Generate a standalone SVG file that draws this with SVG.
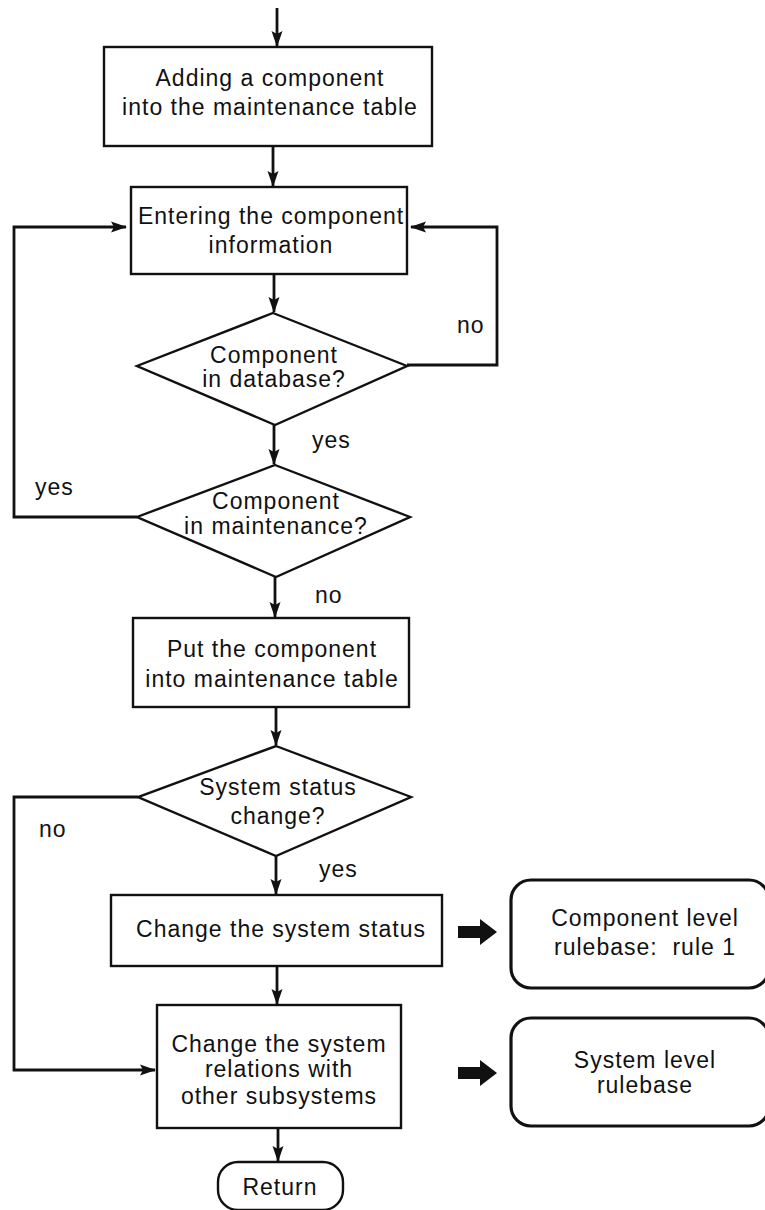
<svg xmlns="http://www.w3.org/2000/svg" width="765" height="1210" viewBox="0 0 765 1210">
<defs>
<marker id="ah" markerWidth="16" markerHeight="12" refX="15" refY="6" orient="auto" markerUnits="userSpaceOnUse">
<path d="M0,0.5 L16,6 L0,11.5 L3,6 Z" fill="#111"/>
</marker>
</defs>
<style>
text{font-family:"Liberation Sans",Arial,sans-serif;font-size:23px;fill:#111;letter-spacing:1px;text-anchor:middle}
.lbl{text-anchor:start}
.box{fill:#fff;stroke:#111;stroke-width:2.4}
.rbox{fill:#fff;stroke:#111;stroke-width:3.2}
.ln{fill:none;stroke:#111;stroke-width:2.8}
.fat{fill:#111}
</style>
<rect width="765" height="1210" fill="#fff"/>
<g id="connectors">
<line class="ln" x1="277" y1="8" x2="277" y2="46" marker-end="url(#ah)"/>
<line class="ln" x1="273" y1="146" x2="273" y2="186" marker-end="url(#ah)"/>
<line class="ln" x1="274" y1="274" x2="274" y2="312" marker-end="url(#ah)"/>
<polyline class="ln" points="407,365 497,365 497,227 411,227" marker-end="url(#ah)"/>
<line class="ln" x1="274" y1="425" x2="274" y2="464" marker-end="url(#ah)"/>
<polyline class="ln" points="137,517 14,517 14,227 126,227" marker-end="url(#ah)"/>
<line class="ln" x1="275" y1="577" x2="275" y2="617" marker-end="url(#ah)"/>
<line class="ln" x1="276" y1="707" x2="276" y2="745" marker-end="url(#ah)"/>
<line class="ln" x1="276" y1="856" x2="276" y2="894" marker-end="url(#ah)"/>
<polyline class="ln" points="138,797 14,797 14,1070 155,1070" marker-end="url(#ah)"/>
<line class="ln" x1="277" y1="966" x2="277" y2="1004" marker-end="url(#ah)"/>
<line class="ln" x1="278" y1="1128" x2="278" y2="1161" marker-end="url(#ah)"/>
<path class="fat" d="M458,926 L480,926 L480,919 L497,932 L480,945 L480,938 L458,938 Z"/>
<path class="fat" d="M458,1067 L480,1067 L480,1060 L497,1073 L480,1086 L480,1079 L458,1079 Z"/>
<text class="lbl" x="457" y="333">no</text>
<text class="lbl" x="312" y="448">yes</text>
<text class="lbl" x="35" y="495">yes</text>
<text class="lbl" x="315" y="603">no</text>
<text class="lbl" x="39" y="837">no</text>
<text class="lbl" x="319" y="877">yes</text>
</g>
<g id="n1">
<rect class="box" x="104" y="47" width="328" height="99"/>
<text x="270" y="86">Adding a component</text>
<text x="270" y="115">into the maintenance table</text>
</g>
<g id="n2">
<rect class="box" x="131" y="187" width="276" height="87"/>
<text x="271" y="224">Entering the component</text>
<text x="271" y="253">information</text>
</g>
<g id="d1">
<polygon class="box" points="273,313 407,366 275,425 137,366"/>
<text x="274" y="363">Component</text>
<text x="274" y="387">in database?</text>
</g>
<g id="d2">
<polygon class="box" points="275,465 410,517 276,577 137,517"/>
<text x="276" y="509">Component</text>
<text x="276" y="534">in maintenance?</text>
</g>
<g id="n3">
<rect class="box" x="133" y="618" width="276" height="89"/>
<text x="272" y="657">Put the component</text>
<text x="272" y="687">into maintenance table</text>
</g>
<g id="d3">
<polygon class="box" points="276,746 411,797 276,856 138,797"/>
<text x="278" y="795">System status</text>
<text x="278" y="824">change?</text>
</g>
<g id="n4">
<rect class="box" x="111" y="895" width="331" height="71"/>
<text x="281" y="937">Change the system status</text>
</g>
<g id="n5">
<rect class="box" x="157" y="1005" width="244" height="123"/>
<text x="279" y="1052">Change the system</text>
<text x="279" y="1077">relations with</text>
<text x="279" y="1104">other subsystems</text>
</g>
<g id="ret">
<rect class="box" x="218" y="1162" width="125" height="48" rx="20"/>
<text x="280" y="1195">Return</text>
</g>
<g id="r1">
<rect class="rbox" x="511" y="880" width="258" height="108" rx="20"/>
<text x="645" y="926">Component level</text>
<text x="645" y="955" xml:space="preserve">rulebase:  rule 1</text>
</g>
<g id="r2">
<rect class="rbox" x="511" y="1018" width="258" height="108" rx="20"/>
<text x="645" y="1068">System level</text>
<text x="645" y="1093">rulebase</text>
</g>
</svg>
